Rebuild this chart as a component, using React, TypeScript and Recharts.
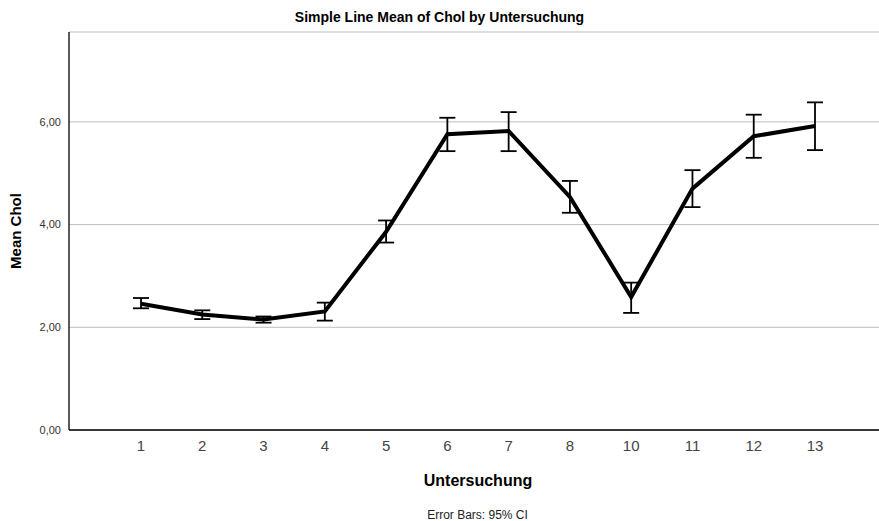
import React from "react";
import { LineChart, Line, XAxis, YAxis, CartesianGrid, ErrorBar, Label } from "recharts";

// Untersuchung categories (no 9 in the data)
const categories = ["1", "2", "3", "4", "5", "6", "7", "8", "10", "11", "12", "13"];
const meanChol = [2.46, 2.25, 2.15, 2.31, 3.86, 5.76, 5.82, 4.54, 2.59, 4.7, 5.72, 5.92];
const ciLower = [2.37, 2.16, 2.09, 2.13, 3.65, 5.43, 5.43, 4.23, 2.28, 4.34, 5.3, 5.45];
const ciUpper = [2.57, 2.33, 2.21, 2.48, 4.08, 6.08, 6.19, 4.85, 2.87, 5.06, 6.14, 6.38];
const yTicks = [0, 2, 4, 6];

const FONT = "'Liberation Sans', Arial, sans-serif";

const chartData = categories.map((c, i) => ({
  name: c,
  mean: meanChol[i],
  // ErrorBar takes [below, above] relative to the mean
  ci: [meanChol[i] - ciLower[i], ciUpper[i] - meanChol[i]],
}));

const fmt = (v: number) => v.toFixed(2).replace(".", ",");

const App: React.FC = () => {
  return (
    <div style={{ position: "absolute", left: 0, top: 0, width: 879, height: 521, background: "#fff", fontFamily: FONT }}>
      <div
        style={{
          position: "absolute",
          top: 9,
          left: 0,
          width: 879,
          textAlign: "center",
          fontSize: 14,
          fontWeight: "bold",
          color: "#000",
        }}
      >
        Simple Line Mean of Chol by Untersuchung
      </div>
      <LineChart
        width={879}
        height={521}
        data={chartData}
        margin={{ top: 32, right: 0, bottom: 61, left: 0 }}
      >
        <CartesianGrid vertical={false} stroke="#bdbdbd" strokeWidth={1} />
        <XAxis
          dataKey="name"
          padding={{ left: 72, right: 64 }}
          axisLine={{ stroke: "#000", strokeWidth: 1.3 }}
          tickLine={false}
          tick={{ fontSize: 15, fill: "#444", fontFamily: FONT }}
          tickMargin={4}
          interval={0}
        >
          <Label
            value="Untersuchung"
            position="insideBottom"
            offset={-26}
            dx={4}
            style={{ fontSize: 16, fontWeight: "bold", fill: "#000", fontFamily: FONT }}
          />
        </XAxis>
        <YAxis
          width={69}
          domain={[0, 7.75]}
          ticks={yTicks}
          tickFormatter={fmt}
          axisLine={{ stroke: "#000", strokeWidth: 1.3 }}
          tickLine={false}
          tickMargin={2}
          tick={{ fontSize: 11, fill: "#333", fontFamily: FONT }}
        >
          <Label
            value="Mean Chol"
            angle={-90}
            position="insideLeft"
            offset={16}
            style={{ fontSize: 15, fontWeight: "bold", fill: "#000", fontFamily: FONT, textAnchor: "middle" }}
          />
        </YAxis>
        <Line
          type="linear"
          dataKey="mean"
          stroke="#000"
          strokeWidth={4}
          dot={false}
          activeDot={false}
          isAnimationActive={false}
        >
          <ErrorBar dataKey="ci" width={8} stroke="#000" strokeWidth={1.8} direction="y" />
        </Line>
      </LineChart>
      <div
        style={{
          position: "absolute",
          top: 508,
          left: 0,
          width: 879,
          paddingLeft: 76,
          boxSizing: "border-box",
          textAlign: "center",
          fontSize: 12,
          color: "#222",
        }}
      >
        Error Bars: 95% CI
      </div>
    </div>
  );
};

export default App;
